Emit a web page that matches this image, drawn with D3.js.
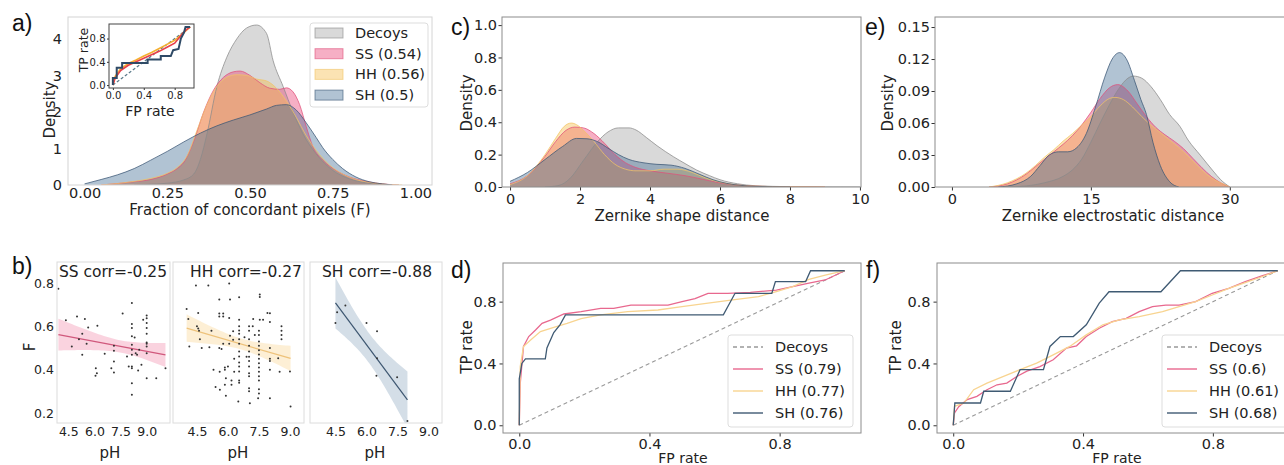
<!DOCTYPE html>
<html><head><meta charset="utf-8">
<script src="https://cdn.jsdelivr.net/npm/d3@7/dist/d3.min.js"></script>
<style>
body{margin:0;background:#fff;overflow:hidden}
svg{display:block}
</style></head><body>
<svg id="fig" width="1284" height="465"></svg>
<script>
// ---------------- DATA ----------------
const seriesNames = ["Decoys","SS","HH","SH"];
// panel a: density of F (Fraction of concordant pixels)
const aDecoys = [[0.15,0],[0.2,0.02],[0.25,0.05],[0.3,0.14],[0.33,0.3],[0.35,0.7],[0.37,1.4],[0.40,2.7],[0.43,3.5],[0.46,4.0],[0.49,4.3],[0.52,4.38],[0.55,4.15],[0.57,3.4],[0.60,2.7],[0.63,2.0],[0.66,1.4],[0.70,0.85],[0.75,0.4],[0.80,0.17],[0.85,0.06],[0.9,0.02],[0.95,0]];
const aSS = [[0.05,0],[0.1,0.04],[0.15,0.09],[0.2,0.15],[0.25,0.3],[0.28,0.45],[0.3,0.62],[0.33,1.2],[0.36,2.0],[0.39,2.6],[0.42,2.95],[0.45,3.1],[0.47,3.12],[0.5,3.0],[0.53,2.8],[0.56,2.65],[0.59,2.62],[0.61,2.66],[0.63,2.55],[0.65,2.2],[0.67,1.6],[0.69,1.05],[0.72,0.68],[0.76,0.4],[0.80,0.22],[0.85,0.1],[0.9,0.03],[0.95,0]];
const aHH = [[0.05,0],[0.1,0.04],[0.15,0.1],[0.2,0.18],[0.25,0.32],[0.28,0.48],[0.31,0.8],[0.34,1.5],[0.37,2.2],[0.40,2.7],[0.43,2.95],[0.46,3.02],[0.49,3.0],[0.52,2.9],[0.55,2.85],[0.58,2.65],[0.61,2.3],[0.64,1.85],[0.67,1.35],[0.70,0.95],[0.74,0.55],[0.78,0.3],[0.82,0.15],[0.87,0.06],[0.92,0.01],[0.96,0]];
const aSH = [[0.0,0.03],[0.05,0.15],[0.1,0.28],[0.15,0.45],[0.2,0.68],[0.25,0.92],[0.3,1.18],[0.35,1.42],[0.4,1.62],[0.45,1.78],[0.5,1.92],[0.55,2.08],[0.58,2.18],[0.61,2.2],[0.64,2.05],[0.67,1.7],[0.70,1.3],[0.72,1.02],[0.75,0.7],[0.78,0.45],[0.82,0.22],[0.86,0.09],[0.9,0.03],[0.93,0]];
const aLegend = ["Decoys","SS (0.54)","HH (0.56)","SH (0.5)"];
// panel a inset ROC
const aRocDecoys = [[0,0],[1,1]];
const aRocSS = [[0,0],[0.03,0.12],[0.1,0.25],[0.2,0.34],[0.3,0.4],[0.4,0.46],[0.5,0.52],[0.6,0.58],[0.7,0.65],[0.8,0.72],[0.85,0.8],[0.9,0.88],[0.95,0.95],[1,1]];
const aRocHH = [[0,0],[0.03,0.15],[0.1,0.28],[0.2,0.37],[0.3,0.43],[0.4,0.5],[0.5,0.56],[0.6,0.63],[0.7,0.7],[0.8,0.77],[0.9,0.88],[1,1]];
const aRocSH = [[0,0],[0,0.12],[0.05,0.12],[0.05,0.3],[0.12,0.3],[0.12,0.38],[0.45,0.38],[0.45,0.44],[0.62,0.44],[0.62,0.5],[0.75,0.5],[0.78,0.6],[0.85,0.62],[0.88,0.8],[0.92,0.9],[0.94,1],[1,1]];
// panel b: scatter pH vs F, with regression lines
const bSS = [[3.93,0.773],[4.36,0.628],[5.0,0.646],[5.45,0.634],[5.3,0.566],[5.64,0.595],[6.17,0.603],[4.7,0.507],[5.11,0.541],[5.55,0.52],[5.3,0.469],[6.59,0.474],[6.08,0.407],[6.14,0.384],[6.06,0.372],[7.12,0.51],[7.12,0.487],[7.12,0.438],[7.12,0.387],[7.62,0.659],[8.15,0.708],[8.15,0.611],[8.15,0.592],[8.15,0.554],[8.15,0.515],[8.15,0.492],[8.15,0.469],[8.15,0.415],[8.15,0.407],[8.15,0.338],[8.15,0.284],[8.31,0.549],[8.37,0.476],[8.45,0.469],[8.57,0.492],[8.51,0.396],[8.8,0.631],[9.0,0.65],[9.0,0.637],[9.0,0.615],[9.0,0.592],[9.0,0.566],[9.0,0.526],[9.0,0.52],[9.0,0.507],[9.0,0.476],[8.7,0.423],[9.0,0.361],[9.55,0.361],[10.08,0.407],[7.87,0.461],[7.97,0.415],[6.97,0.407]];
const bHH = [[4.45,0.788],[5.05,0.788],[6.06,0.798],[4.0,0.68],[4.56,0.662],[5.58,0.659],[5.58,0.646],[5.77,0.659],[5.77,0.646],[6.06,0.638],[6.54,0.734],[7.54,0.747],[7.54,0.735],[5.58,0.724],[6.1,0.724],[6.54,0.631],[7.22,0.634],[7.54,0.631],[7.91,0.662],[4.08,0.634],[4.5,0.6],[4.56,0.59],[4.6,0.58],[4.13,0.507],[4.64,0.54],[4.73,0.5],[5.1,0.504],[5.58,0.5],[5.69,0.495],[5.77,0.52],[6.1,0.557],[6.25,0.577],[6.06,0.52],[6.25,0.538],[6.54,0.6],[6.54,0.581],[6.54,0.566],[6.54,0.541],[6.54,0.52],[6.54,0.484],[6.54,0.461],[6.54,0.433],[6.54,0.415],[6.54,0.392],[6.54,0.35],[5.85,0.41],[5.85,0.4],[6.0,0.415],[5.61,0.307],[5.85,0.33],[6.17,0.33],[6.17,0.35],[6.54,0.34],[7.02,0.6],[7.02,0.58],[7.02,0.54],[7.02,0.51],[7.02,0.484],[7.02,0.46],[7.02,0.44],[7.02,0.415],[7.02,0.384],[7.02,0.37],[7.02,0.314],[7.02,0.3],[7.5,0.58],[7.5,0.56],[7.5,0.53],[7.5,0.51],[7.5,0.49],[7.5,0.47],[7.5,0.45],[7.5,0.43],[7.5,0.41],[7.5,0.39],[7.5,0.37],[7.5,0.35],[7.5,0.31],[7.5,0.29],[8.03,0.66],[8.03,0.62],[8.03,0.5],[8.03,0.45],[8.03,0.44],[8.03,0.4],[8.03,0.268],[8.59,0.6],[8.59,0.58],[8.59,0.56],[8.59,0.54],[8.43,0.453],[8.5,0.39],[9.0,0.392],[9.03,0.23],[7.06,0.245],[6.5,0.253],[7.46,0.268],[5.4,0.32],[5.9,0.36],[6.3,0.39],[6.3,0.45],[6.9,0.46],[7.3,0.56],[7.7,0.63],[7.2,0.6],[6.8,0.55],[5.9,0.28],[5.2,0.58],[5.3,0.4],[5.6,0.39]];
const bSH = [[4.5,0.615],[4.58,0.665],[4.98,0.696],[6.0,0.615],[6.51,0.577],[6.51,0.453],[6.48,0.372],[7.48,0.365],[7.98,0.163]];
const bFitSS = [[3.93,0.562],[10.08,0.468]];
const bFitHH = [[4.0,0.592],[9.03,0.452]];
const bFitSH = [[4.5,0.708],[7.98,0.261]];
const bTitles = ["SS corr=-0.25","HH corr=-0.27","SH corr=-0.88"];
const bXTicks = [4.5,6.0,7.5,9.0];
const bYTicks = [0.2,0.4,0.6,0.8];
// panel c: Zernike shape distance densities
const cDecoys = [[1.0,0],[1.4,0.01],[1.7,0.05],[2.1,0.165],[2.5,0.28],[2.8,0.34],[3.1,0.365],[3.4,0.365],[3.6,0.352],[3.9,0.305],[4.2,0.255],[4.67,0.187],[5.0,0.145],[5.33,0.105],[5.7,0.07],[6.0,0.045],[6.5,0.02],[7.0,0.008],[8,0.002],[9,0.0005],[10,0]];
const cSS = [[0,0.02],[0.5,0.07],[1.0,0.19],[1.3,0.28],[1.6,0.35],[1.85,0.37],[2.1,0.365],[2.4,0.33],[2.7,0.27],[3.0,0.2],[3.3,0.15],[3.6,0.12],[4.0,0.1],[4.5,0.085],[5.0,0.07],[5.5,0.048],[6.0,0.025],[6.5,0.012],[7,0.005],[8,0.001],[9,0]];
const cHH = [[0,0.015],[0.5,0.07],[1.0,0.2],[1.3,0.3],[1.55,0.375],[1.75,0.395],[1.9,0.385],[2.1,0.35],[2.4,0.28],[2.7,0.2],[3.0,0.14],[3.3,0.11],[3.6,0.1],[4.0,0.1],[4.4,0.11],[4.8,0.11],[5.2,0.09],[5.6,0.055],[6.0,0.03],[6.5,0.012],[7,0.005],[8,0.001],[9,0]];
const cSH = [[0,0.035],[0.5,0.09],[1.0,0.17],[1.5,0.25],[1.9,0.3],[2.2,0.298],[2.5,0.28],[2.8,0.24],[3.1,0.2],[3.4,0.17],[3.8,0.15],[4.2,0.14],[4.6,0.135],[5.0,0.115],[5.4,0.08],[5.8,0.045],[6.2,0.022],[6.6,0.01],[7,0.004],[8,0]];
// panel e: Zernike electrostatic distance densities
const eDecoys = [[6,0],[8,0.001],[10,0.004],[12,0.01],[13,0.016],[14,0.026],[15,0.042],[16,0.06],[17,0.077],[18,0.092],[19,0.102],[19.6,0.104],[20.5,0.102],[21.5,0.094],[22.5,0.082],[23.5,0.068],[24.6,0.057],[25.5,0.044],[26.8,0.03],[28.2,0.015],[29,0.007],[30,0]];
const eSS = [[4,0],[6,0.003],[8,0.012],[9,0.019],[10,0.026],[11,0.033],[12,0.04],[13,0.048],[14,0.058],[15,0.07],[16,0.083],[17,0.093],[17.9,0.096],[19,0.09],[20,0.078],[21,0.066],[22,0.056],[23,0.049],[24,0.043],[25,0.036],[26,0.027],[27,0.018],[28,0.01],[29,0.004],[30,0]];
const eHH = [[4,0],[6,0.004],[8,0.013],[9,0.02],[10,0.028],[11,0.035],[12,0.043],[13,0.05],[14,0.058],[15,0.066],[16,0.076],[17,0.083],[17.6,0.084],[18.5,0.082],[19.5,0.075],[20.5,0.066],[21.5,0.058],[22.5,0.051],[23.5,0.044],[24.5,0.037],[25.5,0.029],[26.5,0.02],[27.5,0.012],[28.5,0.006],[29.5,0.002],[30,0]];
const eSH = [[5,0],[7,0.003],[8.5,0.01],[9.5,0.02],[10.5,0.03],[11.5,0.033],[12.5,0.033],[13.5,0.037],[14.5,0.05],[15.5,0.075],[16.5,0.103],[17.3,0.12],[18.1,0.126],[18.9,0.119],[19.7,0.1],[20.4,0.082],[21,0.068],[21.7,0.042],[22.5,0.02],[23.5,0.005],[24.5,0]];
// panel d: ROC (shape)
const rocDecoys = [[0,0],[1,1]];
const dSS = [[0,0],[0.003,0.27],[0.013,0.51],[0.029,0.574],[0.05,0.617],[0.07,0.66],[0.096,0.68],[0.137,0.72],[0.19,0.735],[0.25,0.757],[0.29,0.757],[0.343,0.778],[0.457,0.778],[0.5,0.8],[0.54,0.82],[0.58,0.854],[0.64,0.854],[0.71,0.86],[0.79,0.875],[0.84,0.897],[0.89,0.92],[0.94,0.94],[1,1]];
const dHH = [[0,0],[0.003,0.38],[0.013,0.51],[0.034,0.55],[0.065,0.606],[0.106,0.634],[0.147,0.66],[0.19,0.69],[0.25,0.714],[0.333,0.735],[0.426,0.746],[0.5,0.768],[0.58,0.79],[0.65,0.81],[0.735,0.832],[0.79,0.865],[0.84,0.897],[0.89,0.944],[0.94,0.972],[1,1]];
const dSH = [[0,0],[0,0.3],[0.008,0.4],[0.019,0.43],[0.08,0.43],[0.085,0.5],[0.106,0.6],[0.125,0.65],[0.142,0.714],[0.627,0.714],[0.663,0.854],[0.776,0.854],[0.787,0.93],[0.88,0.93],[0.895,1.0],[1,1]];
const dLegend = ["Decoys","SS (0.79)","HH (0.77)","SH (0.76)"];
// panel f: ROC (electrostatic)
const fSS = [[0,0],[0.004,0.08],[0.017,0.12],[0.043,0.166],[0.073,0.187],[0.104,0.23],[0.135,0.262],[0.165,0.273],[0.196,0.316],[0.227,0.35],[0.267,0.38],[0.308,0.424],[0.349,0.5],[0.38,0.514],[0.41,0.574],[0.45,0.628],[0.49,0.67],[0.533,0.692],[0.573,0.735],[0.614,0.768],[0.655,0.778],[0.696,0.778],[0.747,0.8],[0.798,0.854],[0.849,0.886],[0.9,0.929],[0.951,0.966],[1,1]];
const fHH = [[0,0],[0.004,0.123],[0.033,0.144],[0.063,0.23],[0.104,0.273],[0.155,0.316],[0.206,0.36],[0.257,0.402],[0.308,0.456],[0.359,0.51],[0.41,0.585],[0.461,0.65],[0.512,0.682],[0.573,0.703],[0.645,0.735],[0.696,0.768],[0.747,0.8],[0.798,0.843],[0.849,0.886],[0.9,0.923],[0.951,0.961],[1,1]];
const fSH = [[0,0],[0.005,0.144],[0.084,0.144],[0.094,0.22],[0.176,0.22],[0.206,0.36],[0.278,0.36],[0.298,0.51],[0.33,0.574],[0.37,0.574],[0.41,0.65],[0.45,0.79],[0.48,0.864],[0.64,0.864],[0.70,1.0],[1,1]];
const fLegend = ["Decoys","SS (0.6)","HH (0.61)","SH (0.68)"];

// ---------------- STYLE ----------------
const SANS = "'DejaVu Sans', sans-serif";
const LBL = "'Liberation Sans', Arial, sans-serif";
const fillC = {Decoys:"#a0a0a0", SS:"#e8386e", HH:"#f5b841", SH:"#3d6890"};
const edgeC = {Decoys:"#8a8a8a", SS:"#e0507a", HH:"#f2c466", SH:"#3a5674"};
const rocC  = {SS:"#e8688e", HH:"#f8d490", SH:"#3f5a73"};
const svg = d3.select("#fig");

function txt(x,y,s,o={}){
  const t=svg.append("text").attr("x",x).attr("y",y).text(s)
    .attr("font-family",o.family||SANS).attr("font-size",o.size||15)
    .attr("fill",o.fill||"#222").attr("text-anchor",o.anchor||"middle");
  if(o.rot) t.attr("transform",`rotate(-90,${x},${y})`);
  if(o.mid) t.attr("dominant-baseline","central");
  return t;
}
function frame(b,c){ svg.append("rect").attr("x",b.x0).attr("y",b.y0).attr("width",b.x1-b.x0).attr("height",b.y1-b.y0).attr("fill","none").attr("stroke",c).attr("stroke-width",1); }
function bg(b){ svg.append("rect").attr("x",b.x0).attr("y",b.y0).attr("width",b.x1-b.x0).attr("height",b.y1-b.y0).attr("fill","#fff"); }
function axes(b,x,y,o){
  const gx=svg.append("g").attr("transform",`translate(0,${b.y1})`)
    .call(d3.axisBottom(x).tickValues(o.xT).tickFormat(o.xF).tickSize(o.tick).tickPadding(o.xPad));
  const gy=svg.append("g").attr("transform",`translate(${b.x0},0)`)
    .call(d3.axisLeft(y).tickValues(o.yT).tickFormat(o.yF).tickSize(o.tick).tickPadding(o.yPad));
  [gx,gy].forEach(g=>{g.select(".domain").remove();
    g.selectAll("text").attr("font-family",SANS).attr("font-size",o.font).attr("fill","#222");
    g.selectAll("line").attr("stroke","#333");});
}
let clipN=0;
function clip(b){ const id="cl"+(clipN++); svg.append("clipPath").attr("id",id).append("rect").attr("x",b.x0).attr("y",b.y0).attr("width",b.x1-b.x0).attr("height",b.y1-b.y0); return svg.append("g").attr("clip-path",`url(#${id})`); }

function densities(g,x,y,list){
  const area=d3.area().x(d=>x(d[0])).y0(y(0)).y1(d=>y(d[1])).curve(d3.curveMonotoneX);
  const line=d3.line().x(d=>x(d[0])).y(d=>y(d[1])).curve(d3.curveMonotoneX);
  list.forEach(([name,data])=>{
    g.append("path").datum(data).attr("d",area).attr("fill",fillC[name]).attr("fill-opacity",0.4);
  });
  list.forEach(([name,data])=>{
    g.append("path").datum(data).attr("d",line).attr("fill","none").attr("stroke",edgeC[name]).attr("stroke-width",1).attr("stroke-opacity",0.75);
  });
}

// ---------------- PANEL A ----------------
{
  const b={x0:68,x1:432,y0:17,y1:185};
  const x=d3.scaleLinear().domain([-0.05,1.05]).range([b.x0,b.x1]);
  const y=d3.scaleLinear().domain([0,4.6]).range([b.y1,b.y0]);
  const g=clip(b);
  densities(g,x,y,[["Decoys",aDecoys],["SS",aSS],["HH",aHH],["SH",aSH]]);
  axes(b,x,y,{xT:[0,0.25,0.5,0.75,1],xF:d3.format(".2f"),yT:[0,1,2,3,4],yF:d3.format("d"),tick:0,xPad:3,yPad:6,font:14.5});
  frame(b,"#d4d4d4");
  txt(250,215,"Fraction of concordant pixels (F)");
  txt(50,110,"Density",{rot:true,mid:true});
  txt(12,31,"a)",{family:LBL,size:23,anchor:"start",fill:"#111"});
  // legend
  svg.append("rect").attr("x",310).attr("y",23).attr("width",118).attr("height",84).attr("rx",3)
    .attr("fill","#fff").attr("fill-opacity",0.85).attr("stroke","#ddd");
  seriesNames.forEach((n,i)=>{
    const yy=33+i*20.7;
    svg.append("rect").attr("x",315).attr("y",yy-5).attr("width",28).attr("height",10)
      .attr("fill",fillC[n]).attr("fill-opacity",0.4).attr("stroke",edgeC[n]).attr("stroke-opacity",0.6);
    txt(355,yy,aLegend[i],{anchor:"start",size:14.5,mid:true});
  });
  // inset
  const ib={x0:109,x1:194,y0:24,y1:88};
  bg(ib);
  const ix=d3.scaleLinear().domain([-0.05,1.05]).range([ib.x0,ib.x1]);
  const iy=d3.scaleLinear().domain([-0.05,1.05]).range([ib.y1,ib.y0]);
  const ig=clip(ib);
  const l=d3.line().x(d=>ix(d[0])).y(d=>iy(d[1]));
  ig.append("path").datum(aRocDecoys).attr("d",l).attr("fill","none").attr("stroke","#5a7a8a").attr("stroke-dasharray","3,2").attr("stroke-width",1.2);
  ig.append("path").datum(aRocHH).attr("d",l).attr("fill","none").attr("stroke","#f5b030").attr("stroke-width",1.6);
  ig.append("path").datum(aRocSS).attr("d",l).attr("fill","none").attr("stroke","#e8404a").attr("stroke-width",1.6);
  ig.append("path").datum(aRocSH).attr("d",l).attr("fill","none").attr("stroke","#2f4a66").attr("stroke-width",2);
  axes(ib,ix,iy,{xT:[0,0.4,0.8],xF:d3.format(".1f"),yT:[0,0.4,0.8],yF:d3.format(".1f"),tick:2,xPad:1.5,yPad:1.5,font:10});
  frame(ib,"#444");
  txt(150,111,"FP rate",{size:14,mid:true});
  txt(83,50,"TP rate",{size:12.5,rot:true,mid:true});
}

// ---------------- PANEL B ----------------
function bandFor(pts,fit){
  const n=pts.length, xm=d3.mean(pts,d=>d[0]);
  const sxx=d3.sum(pts,d=>(d[0]-xm)**2);
  const m=(fit[1][1]-fit[0][1])/(fit[1][0]-fit[0][0]);
  const c=fit[0][1]-m*fit[0][0];
  const s=Math.sqrt(d3.sum(pts,d=>(d[1]-(m*d[0]+c))**2)/(n-2));
  const t=1.96+2.4/(n-2);
  return {m,c,se:xv=>t*s*Math.sqrt(1/n+(xv-xm)**2/sxx)};
}
{
  const yTop=262,yBot=423;
  const y=d3.scaleLinear().domain([0.154,0.897]).range([yBot,yTop]);
  const panels=[
    {pts:bSS,fit:bFitSS,b:{x0:57,x1:170},dom:[3.85,10.34],c:"#e8386e",lc:"#d0587c",tx:113,px:110},
    {pts:bHH,fit:bFitHH,b:{x0:173,x1:304},dom:[3.34,9.68],c:"#f5b841",lc:"#eec27a",tx:246,px:238},
    {pts:bSH,fit:bFitSH,b:{x0:310,x1:442},dom:[3.27,9.65],c:"#3d6890",lc:"#3d5670",tx:377,px:375}
  ];
  panels.forEach((p,i)=>{
    const b={x0:p.b.x0,x1:p.b.x1,y0:yTop,y1:yBot};
    const x=d3.scaleLinear().domain(p.dom).range([b.x0,b.x1]);
    const g=clip(b);
    const f=bandFor(p.pts,p.fit);
    const ext=[p.fit[0][0],p.fit[1][0]];
    const xs=d3.range(0,41).map(k=>ext[0]+(ext[1]-ext[0])*k/40);
    g.append("path").datum(xs).attr("d",d3.area().x(v=>x(v)).y0(v=>y(f.m*v+f.c-f.se(v))).y1(v=>y(f.m*v+f.c+f.se(v))))
      .attr("fill",p.c).attr("fill-opacity",0.22);
    g.append("path").datum(p.fit).attr("d",d3.line().x(d=>x(d[0])).y(d=>y(d[1]))).attr("stroke",p.lc).attr("stroke-width",1.2).attr("fill","none");
    g.selectAll(null).data(p.pts).enter().append("circle").attr("cx",d=>x(d[0])).attr("cy",d=>y(d[1])).attr("r",1).attr("fill","#333");
    axes(b,x,y,{xT:bXTicks,xF:d3.format(".1f"),yT:i===0?bYTicks:[],yF:d3.format(".1f"),tick:0,xPad:4.5,yPad:3,font:12.5});
    frame(b,"#dcdcdc");
    txt(p.tx,277,bTitles[i],{size:15.5});
    txt(p.px,453,"pH",{size:15,mid:true});
  });
  txt(30,347,"F",{size:15,rot:true,mid:true});
  txt(12,274,"b)",{family:LBL,size:23,anchor:"start",fill:"#111"});
}

// ---------------- PANEL C & E ----------------
{
  const b={x0:502,x1:861,y0:17,y1:187};
  const x=d3.scaleLinear().domain([-0.23,10.03]).range([b.x0,b.x1]);
  const y=d3.scaleLinear().domain([0,1.05]).range([b.y1,b.y0]);
  const g=clip(b);
  densities(g,x,y,[["Decoys",cDecoys],["SS",cSS],["HH",cHH],["SH",cSH]]);
  axes(b,x,y,{xT:[0,2,4,6,8,10],xF:d3.format("d"),yT:[0,0.2,0.4,0.6,0.8,1.0],yF:d3.format(".1f"),tick:3.5,xPad:3,yPad:1.5,font:14.5});
  frame(b,"#8c8c8c");
  txt(682,216,"Zernike shape distance",{mid:true});
  txt(467,103,"Density",{rot:true,mid:true});
  txt(451,35,"c)",{family:LBL,size:23,anchor:"start",fill:"#111"});
}
{
  const b={x0:935,x1:1290,y0:17,y1:187};
  const x=d3.scaleLinear().domain([-1.83,36.5]).range([b.x0,b.x1]);
  const y=d3.scaleLinear().domain([0,0.1594]).range([b.y1,b.y0]);
  const g=clip(b);
  densities(g,x,y,[["Decoys",eDecoys],["SS",eSS],["HH",eHH],["SH",eSH]]);
  axes(b,x,y,{xT:[0,15,30],xF:d3.format("d"),yT:[0,0.03,0.06,0.09,0.12,0.15],yF:d3.format(".2f"),tick:3.5,xPad:3,yPad:1.5,font:14.5});
  frame(b,"#8c8c8c");
  txt(1113,216,"Zernike electrostatic distance",{mid:true});
  txt(888,103,"Density",{rot:true,mid:true});
  txt(865,35,"e)",{family:LBL,size:23,anchor:"start",fill:"#111"});
}

// ---------------- PANEL D & F ----------------
function roc(b,series,legend,lb,lab,labX,ylabX,fpX){
  const x=d3.scaleLinear().domain([-0.05,1.05]).range([b.x0,b.x1]);
  const y=d3.scaleLinear().domain([-0.05,1.05]).range([b.y1,b.y0]);
  const g=clip(b);
  const l=d3.line().x(d=>x(d[0])).y(d=>y(d[1]));
  g.append("path").datum(rocDecoys).attr("d",l).attr("fill","none").attr("stroke","#999").attr("stroke-dasharray","4,3").attr("stroke-width",1.1);
  [["SS",series[0]],["HH",series[1]],["SH",series[2]]].forEach(([n,d])=>{
    g.append("path").datum(d).attr("d",l).attr("fill","none").attr("stroke",rocC[n]).attr("stroke-width",1.3);
  });
  axes(b,x,y,{xT:[0,0.4,0.8],xF:d3.format(".1f"),yT:[0,0.4,0.8],yF:d3.format(".1f"),tick:3.5,xPad:2.5,yPad:3,font:14.5});
  frame(b,"#8c8c8c");
  // legend
  svg.append("rect").attr("x",lb.x).attr("y",335).attr("width",lb.w).attr("height",92).attr("rx",3)
    .attr("fill","#fff").attr("fill-opacity",0.85).attr("stroke","#ddd");
  const cols=["#999",rocC.SS,rocC.HH,rocC.SH];
  legend.forEach((s,i)=>{
    const yy=347+i*22;
    const ln=svg.append("line").attr("x1",lb.x+5).attr("x2",lb.x+35).attr("y1",yy).attr("y2",yy).attr("stroke",cols[i]).attr("stroke-width",1.4);
    if(i===0) ln.attr("stroke-dasharray","4,3");
    txt(lb.x+47,yy,s,{anchor:"start",size:14.5,mid:true});
  });
  txt(fpX,457.5,"FP rate",{size:14,mid:true});
  txt(ylabX,347,"TP rate",{rot:true,mid:true});
  txt(labX,278,lab,{family:LBL,size:23,anchor:"start",fill:"#111"});
}
roc({x0:503,x1:861,y0:263,y1:433},[dSS,dHH,dSH],dLegend,{x:728,w:125},"d)",451,467,683);
roc({x0:937,x1:1294,y0:263,y1:433},[fSS,fHH,fSH],fLegend,{x:1162,w:128},"f)",866,896,1117);
</script>
</body></html>
